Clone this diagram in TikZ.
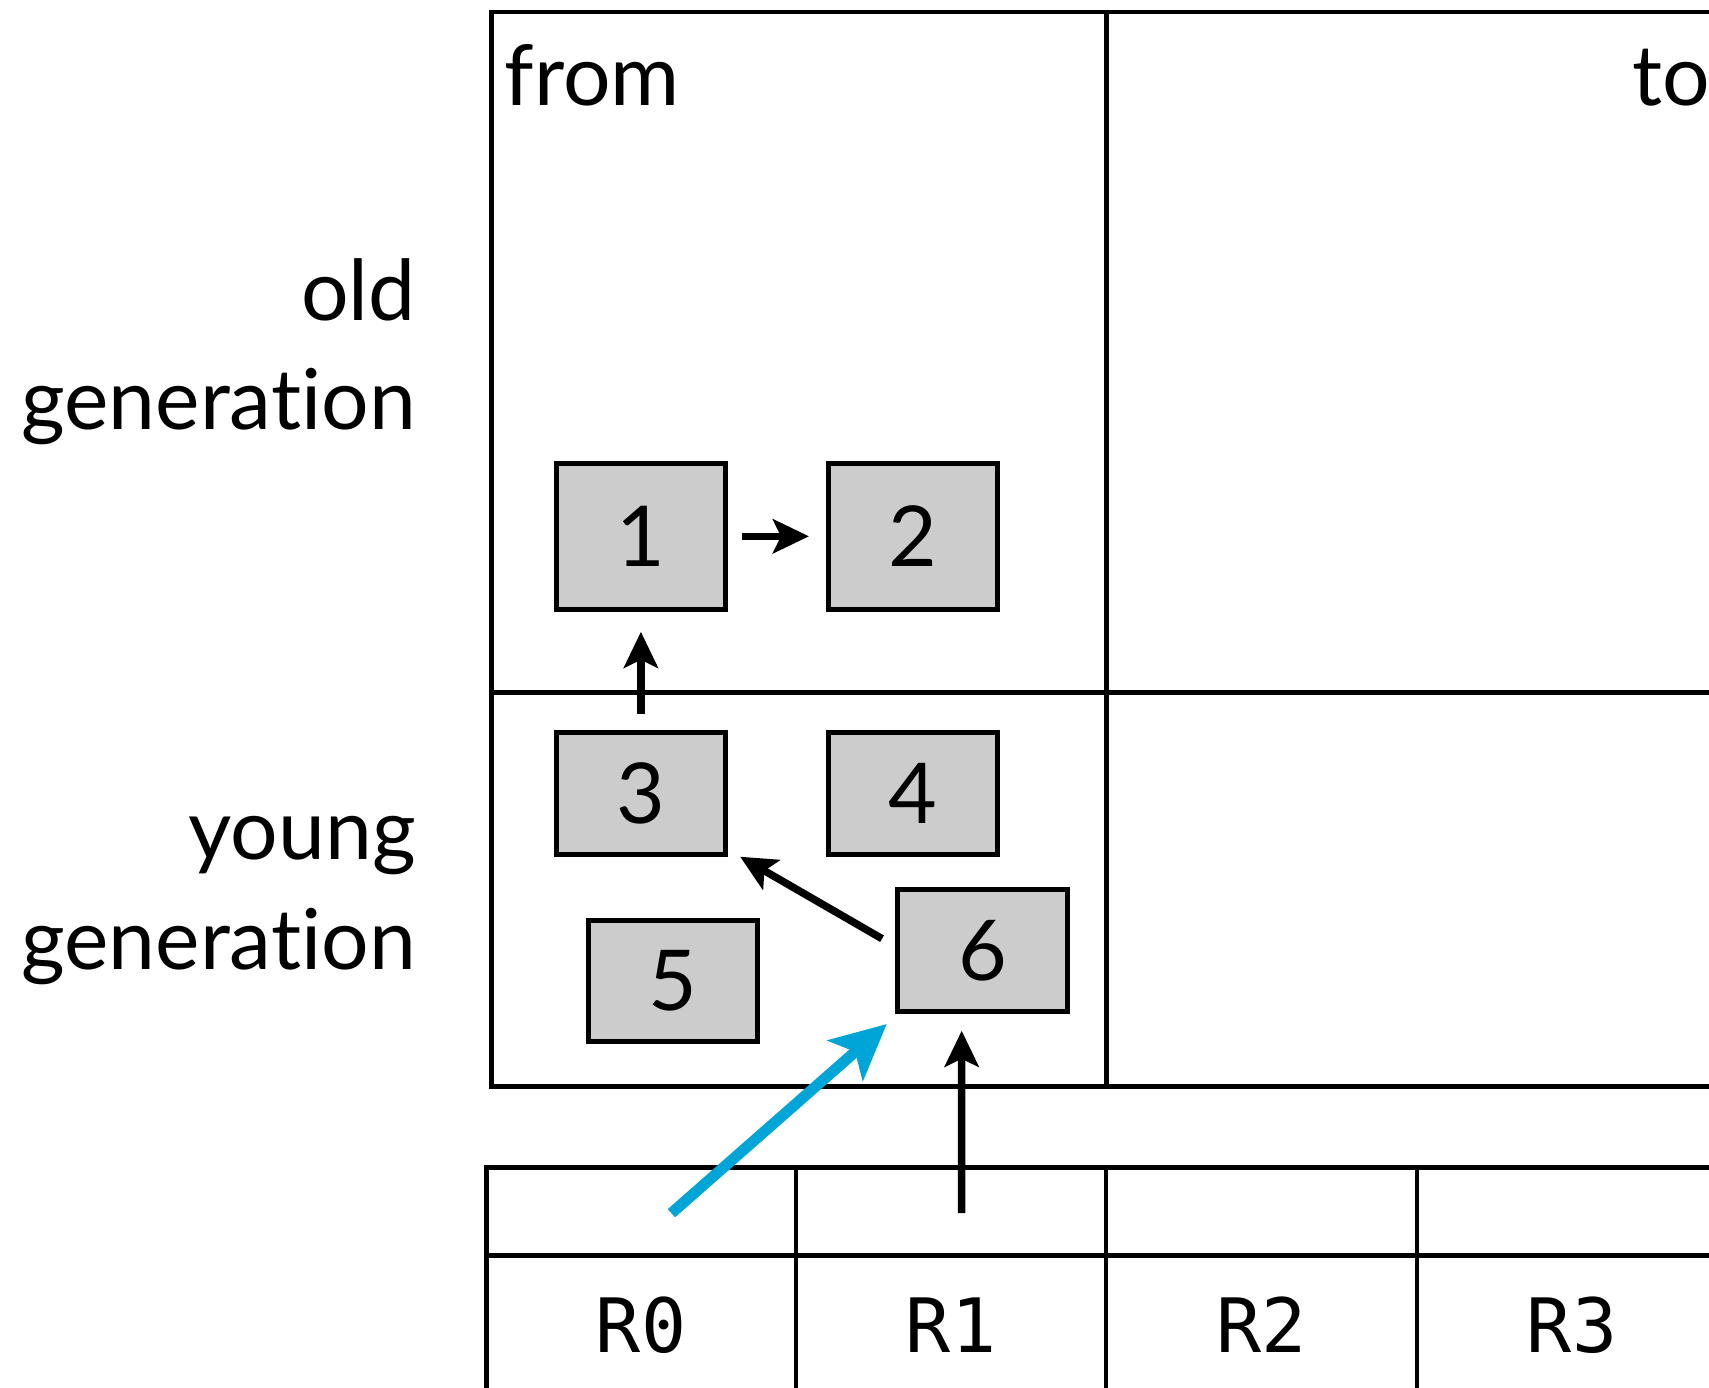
\documentclass[tikz,border=0pt]{standalone}
\usepackage{fontspec}
\setmainfont{Lato}[Ligatures={NoCommon}]
\setmonofont{DejaVu Sans Mono}
\usetikzlibrary{arrows.meta}
\definecolor{boxgray}{RGB}{204,204,204}
\definecolor{cblue}{RGB}{0,165,216}
\tikzset{
  frameline/.style={line width=4.5pt, black},
  blk/.style={draw, line width=5pt, fill=boxgray, minimum width=169.5pt, inner sep=0pt,
              font=\fontsize{84}{100}\selectfont},
  tall/.style={minimum height=146pt},
  short/.style={minimum height=121.5pt},
  arr/.style={line width=7.5pt, -{Stealth[length=36pt,width=34pt,inset=8pt]}},
  barr/.style={line width=11pt, cblue, -{Stealth[length=55pt,width=53pt,inset=13pt]}},
  lbl/.style={inner sep=0pt, font=\fontsize{84}{100}\selectfont},
  reg/.style={inner sep=0pt, anchor=base, font=\ttfamily\fontsize{75}{90}\selectfont},
}
\begin{document}
\begin{tikzpicture}[x=1pt,y=-1pt]
\useasboundingbox (0,0) rectangle (1709,1388);
\clip (0,0) rectangle (1709,1388);
% heap frame
\draw[frameline] (491.6,12) rectangle (1800,1086.7);
\draw[frameline] (1106.4,12) -- (1106.4,1086.7);
\draw[frameline] (491.6,692.3) -- (1800,692.3);
\node[lbl, anchor=base west] (from) at (504.7,106) {from};
\node[lbl, anchor=base west] (to) at (1632,106) {to};
% side labels
\node[lbl, anchor=base east] (old) at (416,321) {old};
\node[lbl, anchor=base east] (gen1) at (416,429) {generation};
\node[lbl, anchor=base east] (young) at (416,859) {young};
\node[lbl, anchor=base east] (gen2) at (416,969) {generation};
% objects
\node[blk, tall] (b1) at (640.9,536.3) {1};
\node[blk, tall] (b2) at (913.2,536.3) {2};
\node[blk, short] (b3) at (640.9,793.5) {3};
\node[blk, short] (b4) at (913.2,793.5) {4};
\node[blk, short] (b5) at (673,980.9) {5};
\node[blk, short] (b6) at (982.7,950.5) {6};
% table
\draw[frameline, line width=5pt] (486,1400) -- (486,1167.5) -- (1800,1167.5);
\draw[frameline, line width=5pt] (486,1255.5) -- (1800,1255.5);
\foreach \x in {796,1106,1417} \draw[frameline] (\x,1167.5) -- (\x,1400);
\node[reg] (r0) at (641,1352) {R0};
\node[reg] (r1) at (951,1352) {R1};
\node[reg] (r2) at (1261.5,1352) {R2};
\node[reg] (r3) at (1572,1352) {R3};
\coordinate (t0) at (671.4,1213.2);
\coordinate (t1) at (961.6,1213);
% arrows
\draw[arr] ([xshift=14pt]b1.east) -- ([xshift=-17pt]b2.west);
\draw[arr] ([yshift=16.7pt]b3.north) -- ([yshift=-20pt]b1.south);
\draw[arr] ([xshift=-13.4pt,yshift=11.8pt]b6.west) -- ([xshift=12pt]b3.south east);
\draw[arr] (t1) -- ([xshift=-21pt,yshift=-17pt]b6.south);
\draw[barr] (t0) -- ([xshift=-8.7pt,yshift=-10.3pt]b6.south west);
\end{tikzpicture}
\end{document}
